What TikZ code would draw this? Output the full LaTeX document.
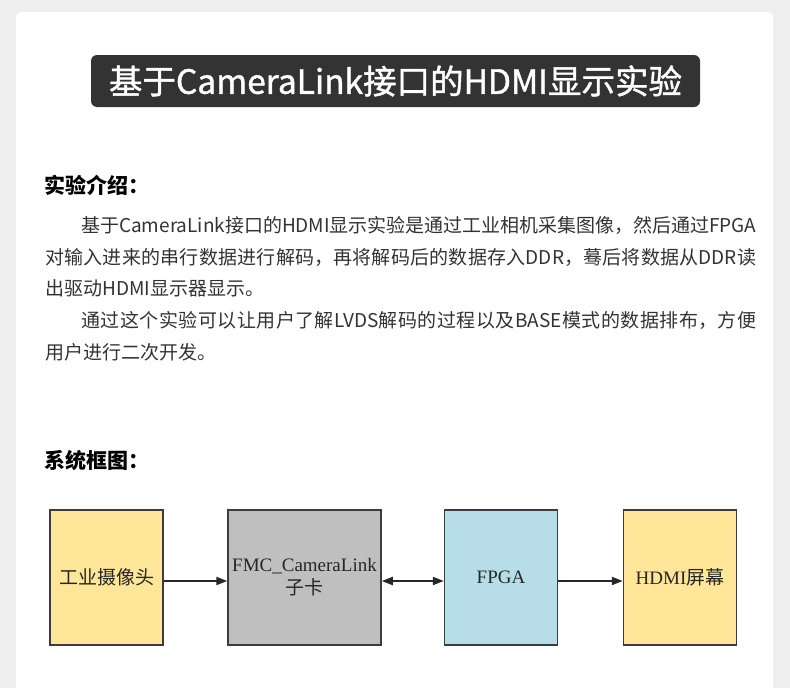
\documentclass[tikz,border=0pt]{standalone}
\usepackage{fontspec}
\usepackage{tikz}
\setmainfont{Noto Sans CJK SC}
\newfontfamily\cjk{Noto Sans CJK SC}
\newfontfamily\titlefont{Noto Sans CJK SC}[FakeBold=1.2]
\newfontfamily\timesfont{Liberation Serif}
\usetikzlibrary{arrows.meta}
\XeTeXlinebreaklocale "zh"
\XeTeXlinebreakskip=0pt plus 3pt minus 0.5pt
\definecolor{pagebg}{HTML}{EFEFEF}
\definecolor{titlebg}{HTML}{333333}
\definecolor{bodytext}{HTML}{333333}
\definecolor{camyellow}{HTML}{FFE699}
\definecolor{cardgray}{HTML}{BFBFBF}
\definecolor{fpgablue}{HTML}{B7DEE8}
\definecolor{boxline}{HTML}{3C3C3C}

\begin{document}
\begin{tikzpicture}[x=1pt, y=-1pt,
  heading/.style = {anchor=west, inner sep=0pt, text=black,
    font=\bfseries\fontsize{21}{25}\selectfont},
  bodyline/.style = {anchor=west, inner sep=0pt, text=bodytext,
    font=\fontsize{19}{23}\selectfont},
  fullline/.style = {bodyline, align=justify, text width=#1},
  box/.style = {draw=boxline, line width=1.5pt, minimum height=135pt,
    align=center, text=black!85, inner sep=2pt,
    font=\timesfont\fontsize{19}{24}\selectfont},
  flow/.style = {line width=2pt, draw=black!85, -{Triangle[length=11pt,width=8pt]}}]
  \useasboundingbox (0,0) rectangle (790,688);
  \fill[pagebg] (0,0) rectangle (790,688);
  % card
  \fill[white] (16,688) {[rounded corners=5pt] -- (16,12) -- (773,12)} -- (773,688) -- cycle;
  % title
  \node[fill=titlebg, rounded corners=6pt, minimum width=609pt,
    minimum height=52pt, text=white, inner sep=0pt,
    font=\titlefont\fontsize{33.5}{36}\selectfont]
    (title) at (395.5,81) {基于CameraLink接口的HDMI显示实验};
  % introduction
  \node[heading] (intro) at (44,185) {实验介绍：};
  \node[fullline=675pt] (l1) at (81,225)
    {\parfillskip=0pt 基于CameraLink接口的HDMI显示实验是通过工业相机采集图像，然后通过FPGA\par};
  \node[fullline=711pt] (l2) at (45,257)
    {\parfillskip=0pt 对输入进来的串行数据进行解码，再将解码后的数据存入DDR，蓦后将数据从DDR读\par};
  \node[bodyline] (l3) at (45,288) {出驱动HDMI显示器显示。};
  \node[fullline=675pt] (l4) at (81,320)
    {\parfillskip=0pt 通过这个实验可以让用户了解LVDS解码的过程以及BASE模式的数据排布，方便\par};
  \node[bodyline] (l5) at (45,352) {用户进行二次开发。};
  % block diagram
  \node[heading] (sys) at (44,460) {系统框图：};
  \node[box, fill=camyellow, minimum width=113pt] (cam) at (106.5,577.5)
    {{\cjk\fontsize{19}{22}\selectfont 工业摄像头}};
  \node[box, fill=cardgray, minimum width=153pt] (fmc) at (304.5,577.5)
    {FMC\_CameraLink\\[-1pt]{\cjk\fontsize{19}{22}\selectfont 子卡}};
  \node[box, fill=fpgablue, minimum width=113pt] (fpga) at (501,577.5) {FPGA};
  \node[box, fill=camyellow, minimum width=113pt] (hdmi) at (680,577.5)
    {HDMI{\cjk\fontsize{19}{22}\selectfont 屏幕}};
  \draw[flow] ([yshift=-3.5pt]cam.east) -- ([yshift=-3.5pt]fmc.west);
  \draw[flow, {Triangle[length=11pt,width=8pt]}-{Triangle[length=11pt,width=8pt]}]
    ([yshift=-3.5pt]fmc.east) -- ([yshift=-3.5pt]fpga.west);
  \draw[flow] ([yshift=-3.5pt]fpga.east) -- ([yshift=-3.5pt]hdmi.west);
\end{tikzpicture}
\end{document}
